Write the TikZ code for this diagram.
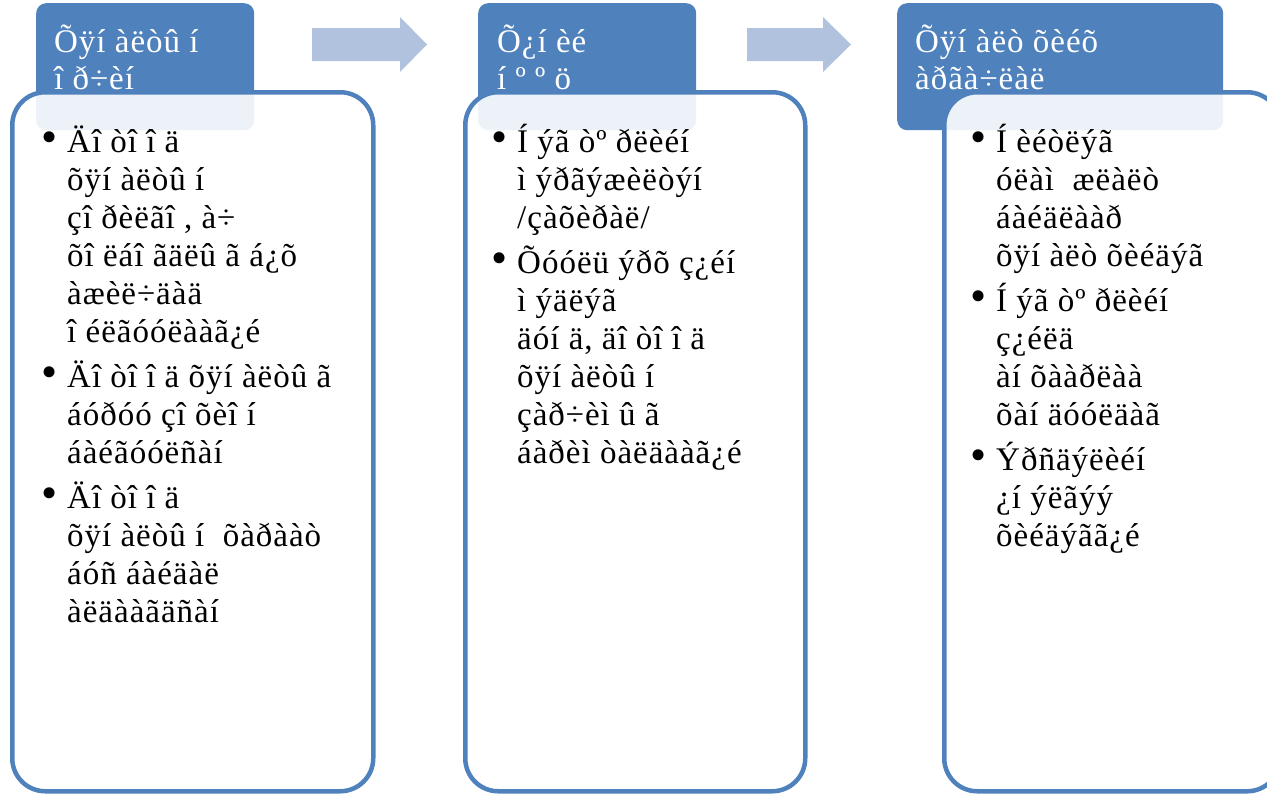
\documentclass[tikz,border=0pt]{standalone}
\usepackage{fontspec}
\setmainfont{Liberation Serif}[LetterSpace=3]
\newfontfamily\bulletfont{Liberation Serif}
\definecolor{accent}{RGB}{79,129,189}
\definecolor{arrowfill}{RGB}{176,194,222}
\newcommand\bulletitem[1]{\hbox{\makebox[24pt][l]{\bulletfont\fontsize{46}{46}\selectfont\kern-2pt •}#1}}
\newcommand\contline[1]{\hbox{\hspace*{24pt}#1}}
\newcommand\plainline[1]{\hbox{#1}}
\newcommand\itemgap{\vskip 7pt}
\newcommand\linestack[1]{\vtop{\lineskiplimit=-100pt\relax #1}}
\tikzset{
  titlebox/.style={fill=accent, draw=none, rounded corners=10pt, anchor=north west, inner sep=0pt, minimum height=127pt},
  titletext/.style={anchor=base west, inner sep=0pt, text=white, font=\fontsize{33}{37}\selectfont},
  panel/.style={draw=accent, line width=4.5pt, fill=white, fill opacity=0.9, draw opacity=1, rounded corners=33pt, anchor=north west, inner sep=0pt, minimum height=699pt},
  bodytext/.style={anchor=base west, inner sep=0pt, text=black, font=\fontsize{33}{38}\selectfont},
  blockarrow/.style={fill=arrowfill, draw=none}
}
\begin{document}
\begin{tikzpicture}[x=1pt,y=-1pt]
\useasboundingbox (0,0) rectangle (1267,793);
\clip (0,0) rectangle (1267,793);
% title boxes
\node[titlebox, minimum width=218pt] (t1) at (36,3) {};
\node[titlebox, minimum width=218pt] (t2) at (478,3) {};
\node[titlebox, minimum width=326pt] (t3) at (897,3) {};
% title texts
\node[titletext] (tt1) at (54,52) {\linestack{\plainline{Õÿí àëòû í}\plainline{î ð÷èí}}};
\node[titletext] (tt2) at (497,52) {\linestack{\plainline{Õ¿í èé}\plainline{í º º ö}}};
\node[titletext] (tt3) at (915,52) {\linestack{\plainline{Õÿí àëò õèéõ}\plainline{àðãà÷ëàë}}};
% panels
\node[panel, minimum width=361pt] (p1) at (10,90) {};
\node[panel, minimum width=340pt] (p2) at (463,90) {};
\node[panel, minimum width=336pt] (p3) at (942,90) {};
% body texts
\node[bodytext] (b1) at (43,152) {\linestack{%
  \bulletitem{Äî òî î ä}
  \contline{õÿí àëòû í}
  \contline{çî ðèëãî , à÷}
  \contline{õî ëáî ãäëû ã á¿õ}
  \contline{àæèë÷äàä}
  \contline{î éëãóóëààã¿é}
  \itemgap
  \bulletitem{Äî òî î ä õÿí àëòû ã}
  \contline{áóðóó çî õèî í}
  \contline{áàéãóóëñàí}
  \itemgap
  \bulletitem{Äî òî î ä}
  \contline{õÿí àëòû í \ õàðààò}
  \contline{áóñ áàéäàë}
  \contline{àëäààãäñàí}}};
\node[bodytext] (b2) at (493,152) {\linestack{%
  \bulletitem{Í ýã òº ðëèéí}
  \contline{ì ýðãýæèëòýí}
  \contline{/çàõèðàë/}
  \itemgap
  \bulletitem{Õóóëü ýðõ ç¿éí}
  \contline{ì ýäëýã}
  \contline{äóí ä, äî òî î ä}
  \contline{õÿí àëòû í}
  \contline{çàð÷èì û ã}
  \contline{áàðèì òàëäààã¿é}}};
\node[bodytext] (b3) at (972,152) {\linestack{%
  \bulletitem{Í èéòëýã}
  \contline{óëàì \ æëàëò}
  \contline{áàéäëààð}
  \contline{õÿí àëò õèéäýã}
  \itemgap
  \bulletitem{Í ýã òº ðëèéí}
  \contline{ç¿éëä}
  \contline{àí õààðëàà}
  \contline{õàí äóóëäàã}
  \itemgap
  \bulletitem{Ýðñäýëèéí}
  \contline{¿í ýëãýý}
  \contline{õèéäýãã¿é}}};
% block arrows
\fill[blockarrow] (312,28) -- (400,28) -- (400,17) -- (427,44.5) -- (400,72) -- (400,61) -- (312,61) -- cycle;
\fill[blockarrow] (747,28) -- (823,28) -- (823,17) -- (851,44.5) -- (823,72) -- (823,61) -- (747,61) -- cycle;
\end{tikzpicture}
\end{document}
